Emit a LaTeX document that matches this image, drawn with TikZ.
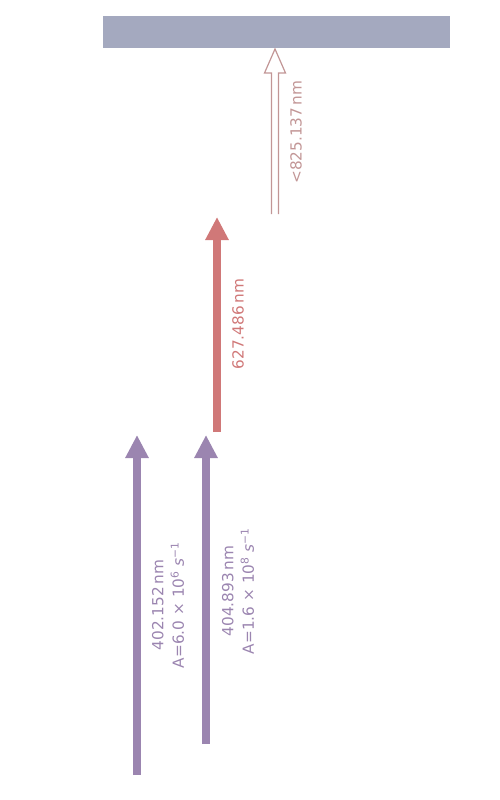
\documentclass[tikz,border=0pt]{standalone}
\usepackage{fontspec}
\setmainfont{DejaVu Sans}
\usetikzlibrary{positioning}
\usetikzlibrary{arrows.meta, calc, positioning}
\definecolor{barcol}{HTML}{A4A9BF}
\definecolor{redcol}{HTML}{D07878}
\definecolor{pinkcol}{HTML}{C29696}
\definecolor{purpcol}{HTML}{9B85B0}
\tikzstyle{level} = [fill=barcol, inner sep=0pt, minimum width=347pt, minimum height=32pt, anchor=north west]
\tikzstyle{fatarrow} = [line width=8pt, -{Triangle[width=22pt,length=23pt]}]
\tikzstyle{openarrow} = [line width=1.2pt, pinkcol, line join=miter]
\tikzstyle{lbl} = [rotate=90, font=\fontsize{15.3}{20.5}\selectfont, align=center, inner sep=0pt]

\begin{document}
\begin{tikzpicture}[x=1pt, y=-1pt]
    \useasboundingbox (0,0) rectangle (500,800);
    % Nodes
    \node[level] (top) at (103,16) {};
    \coordinate (r3b) at (275,214);
    \coordinate (r3t) at (275,49);
    \coordinate (r2b) at (217,432);
    \coordinate (r2t) at (217,217);
    \coordinate (r1b) at (137,775);
    \coordinate (r1t) at (137,435);
    \coordinate (r0b) at (206,744);
    \coordinate (r0t) at (206,435);
    
    % Edges
    \draw[openarrow] ($(r3b)+(-3.5,0)$) -- ($(r3t)+(-3.5,24)$) -- ($(r3t)+(-10.5,24)$) -- (r3t)
        -- ($(r3t)+(10.5,24)$) -- ($(r3t)+(3.5,24)$) -- ($(r3b)+(3.5,0)$);
    \draw[fatarrow, redcol] (r2b) -- (r2t);
    \draw[fatarrow, purpcol] (r1b) -- (r1t);
    \draw[fatarrow, purpcol] (r0b) -- (r0t);
    
    % Labels
    \node[lbl, text=pinkcol] (l3) at (296,132) {<825.137\,nm};
    \node[lbl, text=redcol] (l2) at (238,324) {627.486\,nm};
    \node[lbl, text=purpcol] (l1) at (168,605) {402.152\,nm\\A=6.0 × 10\textsuperscript{6} \textit{s}\textsuperscript{−1}};
    \node[lbl, text=purpcol] (l0) at (238,591) {404.893\,nm\\A=1.6 × 10\textsuperscript{8} \textit{s}\textsuperscript{−1}};
\end{tikzpicture}
\end{document}
